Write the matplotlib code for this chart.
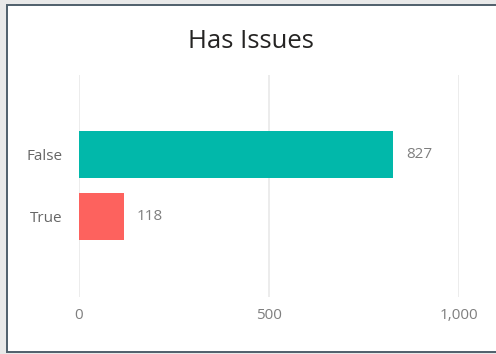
import matplotlib.pyplot as plt
from matplotlib.patches import Rectangle

categories = ['False', 'True']
counts = [827, 118]
bar_colors = ['#01B8AA', '#FD625E']
xticks = [0, 500, 1000]
xtick_labels = ['0', '500', '1,000']

plt.rcParams['font.family'] = ['Open Sans', 'DejaVu Sans']

fig = plt.figure(figsize=(4.96, 3.54), dpi=100)
fig.patch.set_facecolor('#e9e9e9')

# background axes holding the white card with slate border
bg = fig.add_axes([0, 0, 1, 1], zorder=-10)
bg.set_xlim(0, 496)
bg.set_ylim(354, 0)
bg.axis('off')
bg.add_patch(Rectangle((7, 4.5), 520, 347.5, facecolor='white',
                       edgecolor='#4f5f6b', linewidth=1.4))

ax = fig.add_axes([79 / 496, 57 / 354, 380 / 496, 222 / 354])
ax.set_facecolor('none')

pos = list(range(len(categories)))
ax.barh(pos, counts, height=0.76, color=bar_colors, zorder=2)
for p, v in zip(pos, counts):
    ax.text(v + 35, p, str(v), va='center', ha='left', fontsize=11, color='#7f7f7f')

ax.set_ylim(2.3, -1.28)
ax.set_xlim(0, 1000)
ax.set_xticks(xticks)
ax.set_xticklabels(xtick_labels)
ax.set_yticks(pos)
ax.set_yticklabels(categories)
ax.tick_params(axis='x', length=0, pad=8, labelsize=11, labelcolor='#7f7f7f')
ax.tick_params(axis='y', length=0, pad=12, labelsize=11, labelcolor='#666666')
ax.grid(axis='x', color='#eaeaea', linewidth=1.3, zorder=0)
ax.set_axisbelow(True)
for s in ax.spines.values():
    s.set_visible(False)

fig.text(251 / 496, 1 - 41 / 354, 'Has Issues', ha='center', va='center',
         fontsize=18.5, color='#252423')

fig.savefig('out.png', dpi=100, facecolor=fig.get_facecolor())
